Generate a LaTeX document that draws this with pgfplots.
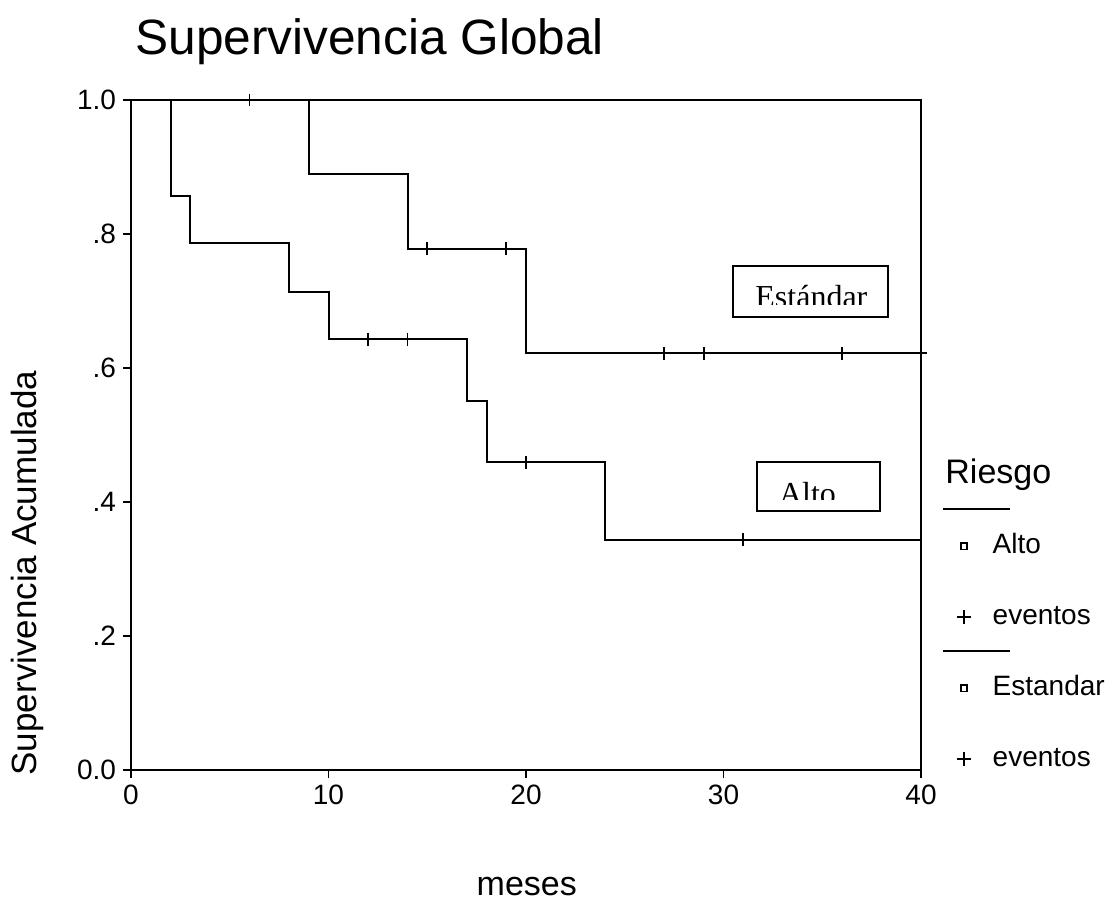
\documentclass[border=0pt]{standalone}
\usepackage{fontspec}
\setmainfont{Liberation Sans}
\newfontfamily\boxfont{Liberation Serif}
\usepackage{pgfplots}
\pgfplotsset{compat=1.18}

\begin{document}
\begin{tikzpicture}
\begin{axis}[
  name=km,
  scale only axis,
  width=395pt, height=335pt,
  xmin=0, xmax=40, ymin=0, ymax=1,
  xtick={0,10,20,30,40},
  ytick={0,0.2,0.4,0.6,0.8,1},
  yticklabels={0.0,.2,.4,.6,.8,1.0},
  tick align=outside,
  xtick pos=bottom, ytick pos=left,
  major tick length=4pt,
  every tick/.style={black, line width=0.9pt},
  axis line style={line width=1pt},
  tick label style={font=\fontsize{14}{16}\selectfont},
  /pgf/number format/assume math mode=true,
  clip=false,
  title={Supervivencia Global},
  every axis title shift=0pt,
  title style={at={(rel axis cs:0.005,1.0682)}, anchor=base west, inner sep=0pt,
    font=\fontsize{24.8}{28}\selectfont},
  xlabel={meses},
  xlabel style={at={(rel axis cs:0.501,-0.1866)}, anchor=base, inner sep=0pt,
    font=\fontsize{17}{20}\selectfont},
  ylabel={Supervivencia Acumulada},
  ylabel style={at={(rel axis cs:-0.119,0.294)}, anchor=base, inner sep=0pt,
    font=\fontsize{17.5}{20}\selectfont},
  legend cell align=left,
  legend style={draw=none, fill=none, at={(rel axis cs:1.0452,0.354)}, anchor=north west,
    inner sep=0pt, row sep=22.5pt, column sep=11pt,
    font=\fontsize{14}{16}\selectfont,
    nodes={inner sep=0pt, text height=10pt, text depth=3pt, anchor=west}},
]
% Alto
\addplot[forget plot, const plot, line width=1pt] coordinates {
  (0,1) (2,0.857) (3,0.786) (8,0.714) (10,0.643) (17,0.551) (18,0.459) (24,0.344) (40,0.344)};
\addplot[forget plot, only marks, mark=|, mark size=3.2pt, line width=0.9pt] coordinates {
  (12,0.643) (14,0.643) (20,0.459) (31,0.344)};
% Estandar
\addplot[forget plot, const plot, line width=1pt] coordinates {
  (0,1) (9,0.889) (14,0.778) (20,0.622) (40.3,0.622)};
\addplot[forget plot, only marks, mark=|, mark size=3.2pt, line width=0.9pt] coordinates {
  (6,1) (15,0.778) (19,0.778) (27,0.622) (29,0.622) (36,0.622)};

\addlegendimage{only marks, mark=square, mark size=1.6pt, line width=0.8pt}
\addlegendentry{Alto}
\addlegendimage{only marks, mark=+, mark size=3.4pt, line width=1.1pt}
\addlegendentry{eventos}
\addlegendimage{only marks, mark=square, mark size=1.6pt, line width=0.8pt}
\addlegendentry{Estandar}
\addlegendimage{only marks, mark=+, mark size=3.4pt, line width=1.1pt}
\addlegendentry{eventos}

% legend title and separators
\node[anchor=base west, inner sep=0pt, font=\fontsize{17}{20}\selectfont]
  at (rel axis cs:1.0304,0.4279) {Riesgo};
\draw[line width=1pt] (rel axis cs:1.0278,0.389) -- (rel axis cs:1.1127,0.389);
\draw[line width=1pt] (rel axis cs:1.0278,0.1776) -- (rel axis cs:1.1127,0.1776);

% curve labels (text cut at the bottom as in the original)
\node[anchor=base, inner sep=0pt, font=\boxfont\fontsize{16}{18}\selectfont]
  at (axis cs:34.45,0.691) {Estándar};
\fill[white] (axis cs:30.6,0.694) rectangle (axis cs:38.2,0.682);
\draw[line width=1pt] (axis cs:30.47,0.7522) rectangle (axis cs:38.31,0.6766);
\node[anchor=base, inner sep=0pt, font=\boxfont\fontsize{16}{18}\selectfont]
  at (axis cs:34.25,0.397) {Alto};
\fill[white] (axis cs:31.8,0.403) rectangle (axis cs:37.8,0.390);
\draw[line width=1pt] (axis cs:31.69,0.4601) rectangle (axis cs:37.92,0.3866);
\end{axis}
\path ([shift={(-65.5pt,-66.5pt)}]km.south west) rectangle ([shift={(97pt,50pt)}]km.north east);
\end{tikzpicture}
\end{document}
